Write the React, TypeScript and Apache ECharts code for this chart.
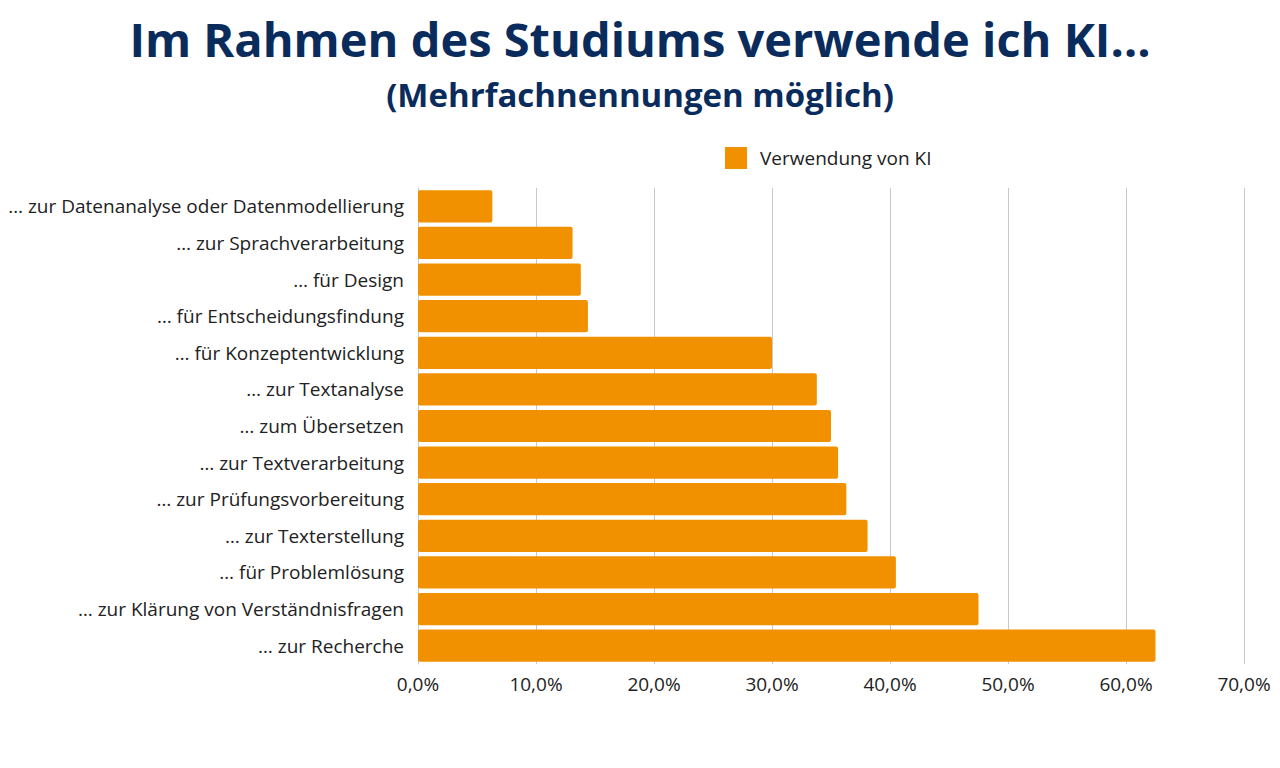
import React, { useEffect, useRef } from "react";
import * as echarts from "echarts";

const categories = [
  "… zur Datenanalyse oder Datenmodellierung",
  "… zur Sprachverarbeitung",
  "… für Design",
  "… für Entscheidungsfindung",
  "… für Konzeptentwicklung",
  "… zur Textanalyse",
  "… zum Übersetzen",
  "… zur Textverarbeitung",
  "… zur Prüfungsvorbereitung",
  "… zur Texterstellung",
  "… für Problemlösung",
  "… zur Klärung von Verständnisfragen",
  "… zur Recherche",
];
const values = [6.3, 13.1, 13.8, 14.4, 30.0, 33.8, 35.0, 35.6, 36.3, 38.1, 40.5, 47.5, 62.5];
const seriesName = "Verwendung von KI";
const titleText = "Im Rahmen des Studiums verwende ich KI…";
const subtitleText = "(Mehrfachnennungen möglich)";

const FONT = "'Open Sans', 'Noto Sans', sans-serif";
const NAVY = "#0a2c5c";
const ORANGE = "#F29100";

export default function App() {
  const ref = useRef<HTMLDivElement>(null);
  useEffect(() => {
    if (!ref.current) return;
    const chart = echarts.init(ref.current, null, { renderer: "svg" });
    chart.setOption({
      animation: false,
      backgroundColor: "#ffffff",
      textStyle: { fontFamily: FONT },
      title: [
        {
          text: titleText,
          left: "center",
          top: 15,
          padding: 0,
          textStyle: { fontFamily: FONT, fontSize: 47, lineHeight: 47, fontWeight: "bold", color: NAVY },
        },
        {
          text: subtitleText,
          left: "center",
          top: 78,
          padding: 0,
          textStyle: { fontFamily: FONT, fontSize: 33, lineHeight: 33, fontWeight: "bold", color: NAVY },
        },
      ],
      legend: {
        left: 720,
        top: 142,
        itemWidth: 22,
        itemHeight: 22,
        itemGap: 12,
        icon: "rect",
        textStyle: { fontFamily: FONT, fontSize: 19, color: "#222", padding: [0, 0, 0, 8] },
        data: [seriesName],
      },
      grid: { left: 418, right: 36, top: 188, height: 476 },
      xAxis: {
        type: "value",
        min: 0,
        max: 70,
        interval: 10,
        axisLine: { show: false },
        axisTick: { show: false },
        splitLine: { show: true, lineStyle: { color: "#c8c8c8", width: 1 } },
        axisLabel: {
          fontFamily: FONT,
          fontSize: 19,
          color: "#222",
          margin: 10,
          formatter: (v: number) => v.toFixed(1).replace(".", ",") + "%",
        },
      },
      yAxis: {
        type: "category",
        inverse: true,
        data: categories,
        axisLine: { show: true, lineStyle: { color: "#c8c8c8", width: 1 } },
        axisTick: { show: false },
        axisLabel: { fontFamily: FONT, fontSize: 19, color: "#222", margin: 14 },
      },
      series: [
        {
          name: seriesName,
          type: "bar",
          data: values,
          barCategoryGap: "12%",
          itemStyle: { color: ORANGE, borderRadius: 2 },
        },
      ],
    });
    return () => chart.dispose();
  }, []);
  return <div ref={ref} style={{ width: 1280, height: 768, position: "absolute", left: 0, top: 0 }} />;
}
